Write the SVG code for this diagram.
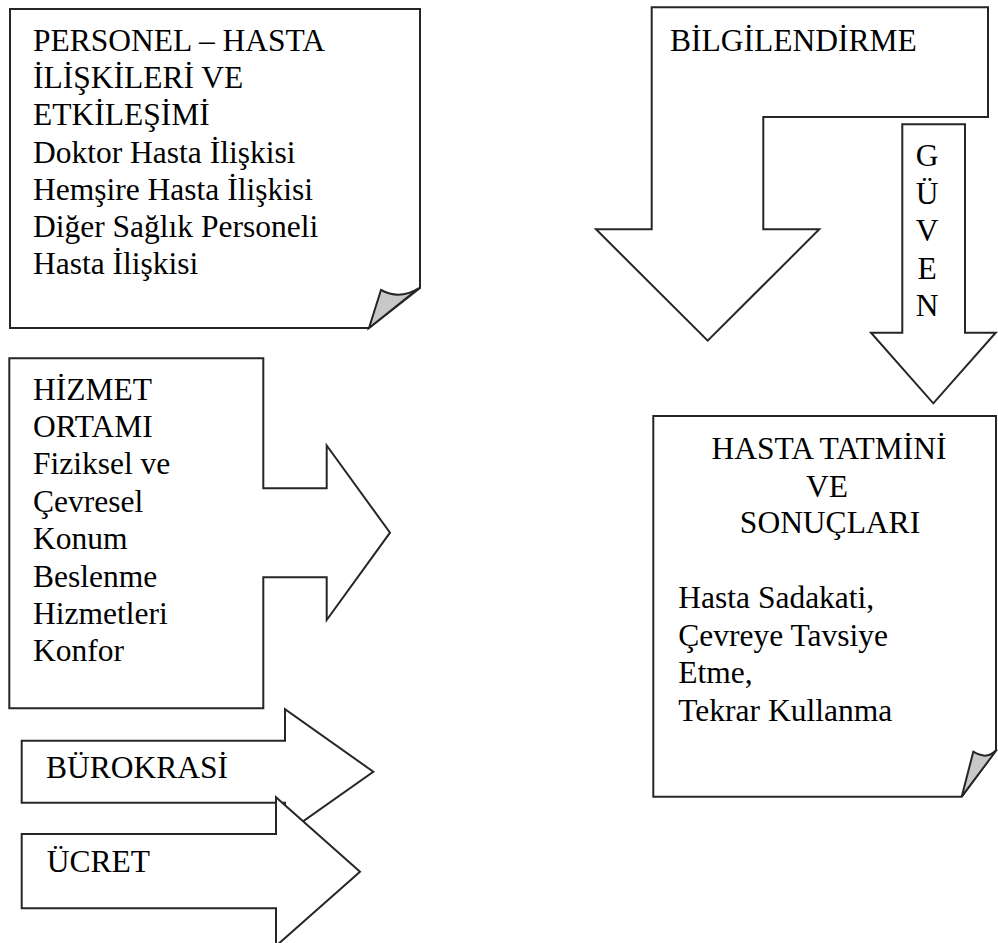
<svg xmlns="http://www.w3.org/2000/svg" width="998" height="943" viewBox="0 0 998 943">
<style>
.shape{fill:#fff;stroke:#262626;stroke-width:2;stroke-linejoin:miter}
.fold{fill:#c8c8c8;stroke:#262626;stroke-width:2;stroke-linejoin:miter}
.t{font-family:"Liberation Serif",serif;font-size:31.5px;fill:#000}
.m{text-anchor:middle}
</style>
<rect width="998" height="943" fill="#fff"/>
<g id="personel">
<path class="shape" d="M10,9 H420 V288 L369,328 H10 Z"/>
<path class="fold" d="M369,328 L381,290 C392,296 405,297 419,288 Z"/>
<text class="t" x="33" y="51">PERSONEL – HASTA</text>
<text class="t" x="33" y="88.2">İLİŞKİLERİ VE</text>
<text class="t" x="33" y="125.4">ETKİLEŞİMİ</text>
<text class="t" x="33" y="162.6">Doktor Hasta İlişkisi</text>
<text class="t" x="33" y="199.8">Hemşire Hasta İlişkisi</text>
<text class="t" x="33" y="237">Diğer Sağlık Personeli</text>
<text class="t" x="33" y="274.2">Hasta İlişkisi</text>
</g>
<g id="bilgilendirme">
<path class="shape" d="M651.7,7.3 H988 V117 H763.3 V229.3 H819.3 L707.7,340.7 L596,229.3 H651.7 Z"/>
<text class="t" x="670" y="50.7">BİLGİLENDİRME</text>
</g>
<g id="guven">
<path class="shape" d="M902.3,124.3 H965 V332.7 H995.7 L933.3,403.3 L871,332.7 H902.3 Z"/>
<text class="t m" x="927" y="166">G</text>
<text class="t m" x="927" y="203.5">Ü</text>
<text class="t m" x="927" y="241">V</text>
<text class="t m" x="927" y="278.5">E</text>
<text class="t m" x="927" y="316">N</text>
</g>
<g id="hizmet">
<path class="shape" d="M9.3,358.3 H263.3 V488.3 H326.7 V445.5 L390,532.7 L326.7,620 V577.3 H263.3 V708.3 H9.3 Z"/>
<text class="t" x="33" y="399.5">HİZMET</text>
<text class="t" x="33" y="436.9">ORTAMI</text>
<text class="t" x="33" y="474.3">Fiziksel ve</text>
<text class="t" x="33" y="511.7">Çevresel</text>
<text class="t" x="33" y="549.1">Konum</text>
<text class="t" x="33" y="586.5">Beslenme</text>
<text class="t" x="33" y="623.9">Hizmetleri</text>
<text class="t" x="33" y="661.3">Konfor</text>
</g>
<g id="hasta-tatmini">
<path class="shape" d="M653.3,416 H996 V750 L961.7,796.7 H653.3 Z"/>
<path class="fold" d="M961.7,796.7 L973.3,751.7 C983,757.5 990,757 997,749.5 Z"/>
<text class="t m" x="829" y="459.3">HASTA TATMİNİ</text>
<text class="t m" x="827" y="496.7">VE</text>
<text class="t m" x="830" y="533.3">SONUÇLARI</text>
<text class="t" x="678.3" y="608">Hasta Sadakati,</text>
<text class="t" x="678.3" y="645.6">Çevreye Tavsiye</text>
<text class="t" x="678.3" y="683.2">Etme,</text>
<text class="t" x="678.3" y="720.8">Tekrar Kullanma</text>
</g>
<g id="burokrasi">
<path class="shape" d="M21.7,740.7 H285 V709.3 L373.3,771.7 L285,834 V802.7 H21.7 Z"/>
<text class="t" x="46" y="778.3">BÜROKRASİ</text>
</g>
<g id="ucret">
<path class="shape" d="M21.7,834 H276 V797.3 L360,871.7 L276,946 V908.3 H21.7 Z"/>
<text class="t" x="46.7" y="871.7">ÜCRET</text>
</g>
<g id="connectors"></g>
</svg>
